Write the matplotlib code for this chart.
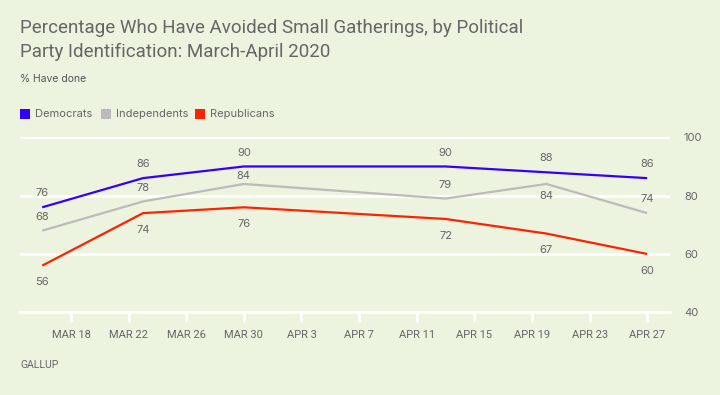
"""Gallup chart: avoided small gatherings by party, March-April 2020."""

import matplotlib.dates as mdates
import matplotlib.pyplot as plt
import pandas as pd

survey_dates = pd.to_datetime([
    "2020-03-16", "2020-03-23", "2020-03-30",
    "2020-04-13", "2020-04-20", "2020-04-27",
])
democrats = [76, 86, 90, 90, 88, 86]
independents = [68, 78, 84, 79, 84, 74]
republicans = [56, 74, 76, 72, 67, 60]

tick_dates = pd.date_range("2020-03-18", "2020-04-27", freq="4D")
y_ticks = [40, 60, 80, 100]

background = "#ECF3DE"
text_grey = "#666666"
blue = "#3300FF"
grey = "#BBBBBB"
red = "#FF2200"

plt.rcParams["font.family"] = ["Inter", "DejaVu Sans"]

figure = plt.figure(figsize=(7.2, 3.95), dpi=100, facecolor=background)
axis = figure.add_axes([20 / 720, 1 - 312.3 / 395, 650 / 720, 175 / 395])
axis.set_facecolor(background)

# label offsets in points (positive = above the line)
series = [
    ("Democrats", democrats, blue, [10] * 6),
    ("Independents", independents, grey, [10, 10, 6, 10, -8.6, 10]),
    ("Republicans", republicans, red, [-12] * 6),
]

for name, values, color, offsets in series:
    axis.plot(survey_dates, values, color=color, linewidth=1.6,
              solid_capstyle="butt", zorder=3)
    for date, value, offset in zip(survey_dates, values, offsets):
        axis.annotate(
            str(value), (date, value), xytext=(0, offset),
            textcoords="offset points", ha="center", va="center",
            fontsize=8, color=text_grey,
        )

axis.set_ylim(40, 100)
axis.set_xlim(pd.Timestamp("2020-03-14 11:00"), pd.Timestamp("2020-04-28 14:00"))

axis.set_yticks(y_ticks)
axis.yaxis.tick_right()
axis.tick_params(axis="y", length=0, pad=10, labelsize=8, labelcolor=text_grey)
axis.grid(axis="y", color="white", linewidth=2)
axis.set_axisbelow(True)

axis.set_xticks(tick_dates)
axis.xaxis.set_major_formatter(mdates.DateFormatter("%b %-d"))
axis.set_xticklabels([d.strftime("%b %-d").upper() for d in tick_dates],
                     family=["Roboto", "DejaVu Sans"])
axis.tick_params(axis="x", length=7, width=2, color="white", pad=6,
                 labelsize=8, labelcolor=text_grey)

for side in ["top", "left", "right"]:
    axis.spines[side].set_visible(False)
axis.spines["bottom"].set_color("white")
axis.spines["bottom"].set_linewidth(2)

title_font = ["Roboto", "DejaVu Sans"]
figure.text(20 / 720, 1 - 28 / 395,
            "Percentage Who Have Avoided Small Gatherings, by Political",
            fontsize=13.5, color=text_grey, va="center", family=title_font)
figure.text(20 / 720, 1 - 52 / 395,
            "Party Identification: March-April 2020",
            fontsize=13.5, color=text_grey, va="center", family=title_font)
figure.text(20 / 720, 1 - 79 / 395, "% Have done",
            fontsize=7.5, color="#555555", va="center")

legend_x = [20, 101, 195]
for (name, values, color, offsets), left in zip(series, legend_x):
    figure.patches.append(plt.Rectangle(
        (left / 720, 1 - 119 / 395), 10 / 720, 10 / 395,
        transform=figure.transFigure, facecolor=color, edgecolor="none",
    ))
    figure.text((left + 15) / 720, 1 - 114 / 395, name,
                fontsize=8, color=text_grey, va="center")

figure.text(20 / 720, 1 - 365 / 395, "GALLUP", fontsize=7.5,
            color=text_grey, va="center",
            family=["Roboto", "DejaVu Sans"])

figure.savefig("out.png", dpi=100, facecolor=background)
